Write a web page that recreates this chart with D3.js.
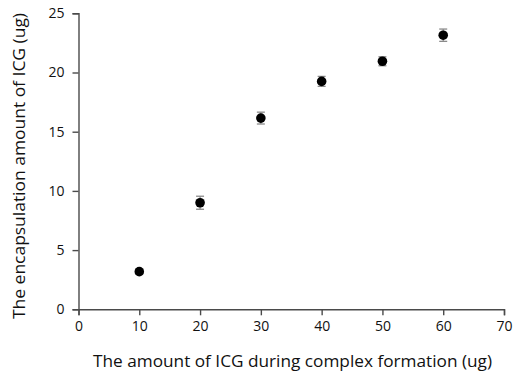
<!DOCTYPE html>
<html>
<head>
<meta charset="utf-8">
<script src="https://cdn.jsdelivr.net/npm/d3@7"></script>
<style>
  body { margin: 0; background: #fff; }
  svg text { font-family: "Open Sans", "DejaVu Sans", sans-serif; fill: #111; }
  .axis path, .axis line { stroke: #4a4a4a; stroke-width: 1.4; }
  .axis text { font-size: 14px; }
</style>
</head>
<body>
<div id="chart"></div>
<script>
'use strict';

let icgInput = [10, 20, 30, 40, 50, 60];
let encapsulated = [3.18, 9.0, 16.15, 19.25, 20.95, 23.15];
let errors = [0.2, 0.55, 0.5, 0.42, 0.38, 0.52];
let xTicks = [0, 10, 20, 30, 40, 50, 60, 70];
let yTicks = [0, 5, 10, 15, 20, 25];

let width = 513, height = 376;
let plotLeft = 78.5, plotRight = 504, plotTop = 13.3, plotBottom = 309.3;

let data = icgInput.map((x, i) => ({ x: x, y: encapsulated[i], e: errors[i] }));

let xScale = d3.scaleLinear().domain([0, 70]).range([plotLeft, plotRight]);
let yScale = d3.scaleLinear().domain([0, 25]).range([plotBottom, plotTop]);

let svg = d3.select('#chart').append('svg')
    .attr('width', width)
    .attr('height', height);

svg.append('g')
    .attr('class', 'axis')
    .attr('transform', `translate(0, ${plotBottom})`)
    .call(d3.axisBottom(xScale).tickValues(xTicks).tickSizeOuter(0).tickSize(6).tickPadding(6));

svg.append('g')
    .attr('class', 'axis')
    .attr('transform', `translate(${plotLeft}, 0)`)
    .call(d3.axisLeft(yScale).tickValues(yTicks).tickSizeOuter(0).tickSize(6).tickPadding(8));

// error bars
let eb = svg.append('g').attr('stroke', '#8a8a8a').attr('stroke-width', 1.3);
eb.selectAll('line.v')
    .data(data)
    .enter().append('line')
    .attr('x1', d => xScale(d.x)).attr('x2', d => xScale(d.x))
    .attr('y1', d => yScale(d.y + d.e)).attr('y2', d => yScale(d.y - d.e));
eb.selectAll('line.capTop')
    .data(data)
    .enter().append('line')
    .attr('x1', d => xScale(d.x) - 4).attr('x2', d => xScale(d.x) + 4)
    .attr('y1', d => yScale(d.y + d.e)).attr('y2', d => yScale(d.y + d.e));
eb.selectAll('line.capBot')
    .data(data)
    .enter().append('line')
    .attr('x1', d => xScale(d.x) - 4).attr('x2', d => xScale(d.x) + 4)
    .attr('y1', d => yScale(d.y - d.e)).attr('y2', d => yScale(d.y - d.e));

svg.append('g').selectAll('circle')
    .data(data)
    .enter().append('circle')
    .attr('cx', d => xScale(d.x))
    .attr('cy', d => yScale(d.y))
    .attr('r', 4.8)
    .attr('fill', '#000');

svg.append('text')
    .text('The amount of ICG during complex formation (ug)')
    .attr('x', 93).attr('y', 367)
    .attr('font-size', 16)
    .attr('textLength', 399)
    .attr('lengthAdjust', 'spacingAndGlyphs');

svg.append('text')
    .text('The encapsulation amount of ICG (ug)')
    .attr('font-size', 16)
    .attr('textLength', 306)
    .attr('lengthAdjust', 'spacingAndGlyphs')
    .attr('transform', `translate(25, 319), rotate(-90)`);
</script>
</body>
</html>
